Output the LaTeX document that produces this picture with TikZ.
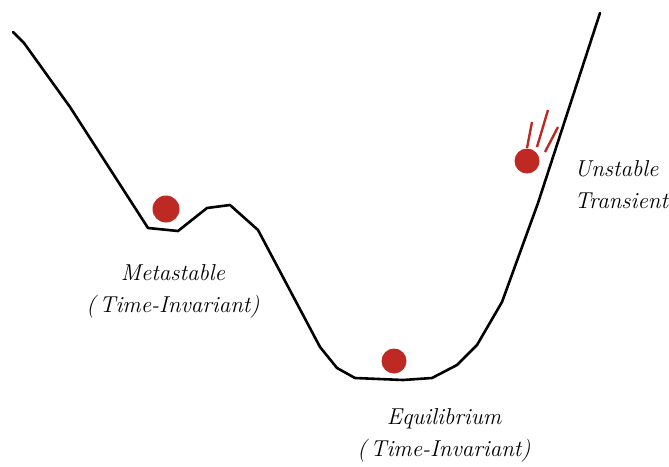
\documentclass[tikz,border=0pt]{standalone}
\usetikzlibrary{positioning}

\definecolor{ballred}{RGB}{190,42,35}

\tikzset{
  ball/.style={circle, fill=ballred, inner sep=0pt, minimum size=25pt},
  streak/.style={ballred, line width=2.4pt},
  caption/.style={align=center, font=\fontsize{23}{32}\selectfont\itshape},
}

\begin{document}
\begin{tikzpicture}[x=1pt,y=-1pt] % 1 unit = 1 pixel of the 669x466 frame, y downwards

\useasboundingbox (0,0) rectangle (669,466);

% --------- PAYSAGE ----------
\draw[line width=2.6pt, line join=round, line cap=round]
  (13,32) -- (24,43) -- (70,107) -- (148,228) -- (178,231)
  -- (207,208) -- (230,205) -- (258,230) -- (320,347) -- (337,368)
  -- (355,378) -- (403,380) -- (432,378) -- (457,365) -- (477,345)
  -- (502,302) -- (538,203) -- (600,13);

% --------- BILLES ----------
\node[ball, minimum width=24pt, minimum height=27pt] (meta) at (166,209) {};
\node[ball] (equi) at (394,361) {};
\node[ball] (unst) at (527,161) {};

% traits de mouvement
\draw[streak] (532,122) -- (527,148);
\draw[streak] (548,110) -- (537,147);
\draw[streak] (558,127) -- (545,152);

% --------- ETIQUETTES ----------
\node[caption] (metalbl) at (173,291) {Metastable\\(\,Time-Invariant)};
\node[caption] (equilbl) at (444,435) {Equilibrium\\(\,Time-Invariant)};
\node[caption, anchor=west, align=left] (unstlbl) at (571,185) {Unstable\\Transient};

\end{tikzpicture}
\end{document}
